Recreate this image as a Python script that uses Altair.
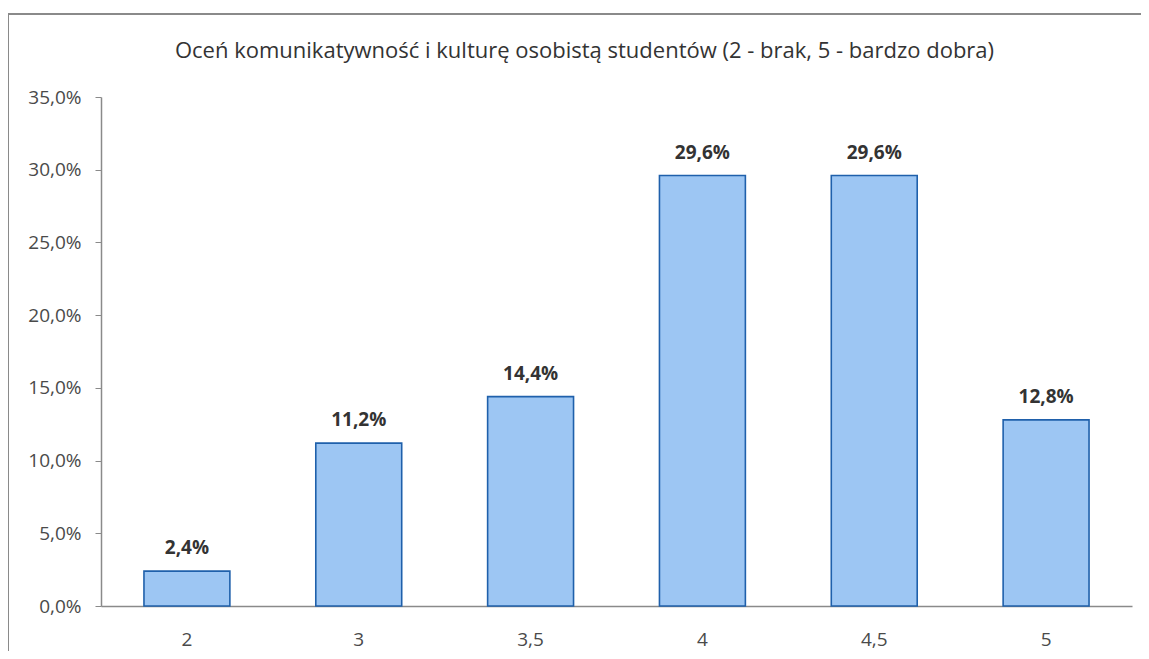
import altair as alt
import pandas as pd

categories = ["2", "3", "3,5", "4", "4,5", "5"]
values = [0.024, 0.112, 0.144, 0.296, 0.296, 0.128]
labels = ["2,4%", "11,2%", "14,4%", "29,6%", "29,6%", "12,8%"]
y_ticks = [0, 0.05, 0.10, 0.15, 0.20, 0.25, 0.30, 0.35]

df = pd.DataFrame({"cat": categories, "val": values, "lab": labels})

FONT = "Open Sans"

x_enc = alt.X("cat:N", sort=categories, title=None,
              scale=alt.Scale(paddingInner=0.5, paddingOuter=0.25),
              axis=alt.Axis(labelAngle=0, ticks=False, labelPadding=24,
                            labelFontSize=19, labelColor="#4a4a4a", labelFont=FONT,
                            domainColor="#8a8a8a", domainWidth=1.5))
y_enc = alt.Y("val:Q", title=None,
              scale=alt.Scale(domain=[0, 0.35], nice=False),
              axis=alt.Axis(values=y_ticks, grid=False, tickSize=6,
                            tickColor="#8a8a8a", domainColor="#8a8a8a", domainWidth=1.5,
                            labelExpr="replace(format(datum.value, '.1%'), '.', ',')",
                            labelFontSize=19, labelColor="#4a4a4a", labelFont=FONT,
                            labelPadding=14))

bars = alt.Chart(df).mark_bar(color="#9dc6f3", stroke="#1f60ab", strokeWidth=1.6).encode(
    x=x_enc, y=y_enc)

text = alt.Chart(df).mark_text(dy=-23, fontSize=19, fontWeight="bold", color="#333",
                               font=FONT).encode(
    x=alt.X("cat:N", sort=categories), y="val:Q", text="lab:N")

frame = alt.Chart(df).mark_rect(fill=None, stroke="#8a8a8a", strokeWidth=1.5).encode(
    x=alt.value(-93), x2=alt.value(1100), y=alt.value(-83), y2=alt.value(620))

chart = alt.layer(frame, bars, text).properties(
    width=1031, height=509,
    title=alt.TitleParams("Oceń komunikatywność i kulturę osobistą studentów (2 - brak, 5 - bardzo dobra)",
                          fontSize=22, fontWeight="normal", color="#333", font=FONT,
                          anchor="middle", offset=-50, dx=-32),
    autosize=alt.AutoSizeParams(type="none"),
    padding={"left": 93, "top": 89, "right": 9, "bottom": 45},
    background="white",
).configure_view(stroke=None)

chart.save("out.html", embed_options={"renderer": "svg", "actions": False})
